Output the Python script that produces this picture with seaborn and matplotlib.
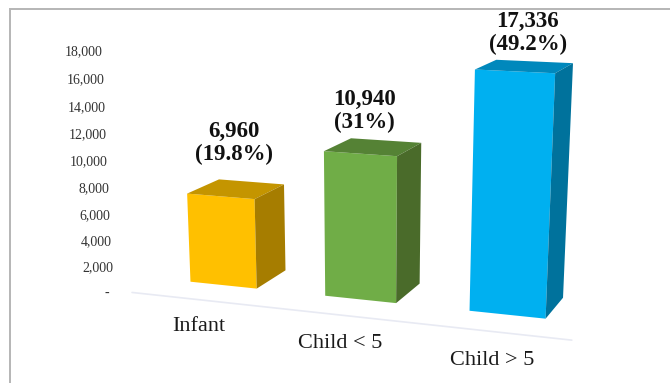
import numpy as np
import matplotlib
matplotlib.use("Agg")
import matplotlib.pyplot as plt
import matplotlib.transforms as mtransforms
import seaborn as sns

categories = ["Infant", "Child < 5", "Child > 5"]
counts = [6960, 10940, 17336]
shares = ["19.8%", "31%", "49.2%"]
y_ticks = [0, 2000, 4000, 6000, 8000, 10000, 12000, 14000, 16000, 18000]

front_colors = ["#FFC000", "#70AD47", "#00B0F0"]
top_colors = ["#C49500", "#558235", "#0088BC"]
side_colors = ["#A67D00", "#4A6B2A", "#00729C"]
label_offsets = [(13, -53), (4.5, -43), (13, -38.5)]
category_drop = [26.5, 28, 29.5]

# Camera of the pseudo-3D view: (category, value in thousands, depth) -> pixel
CAM_X = (124.993563, -0.990674, 41.33723, 223.315854)
CAM_Y = (4.253998, -13.289687, -6.023948, 285.127563)
CAM_W = (-0.033438, -0.002703, 0.044801, 1.0)
AXIS_DEPTH = -0.75


def project(u, v, d=0.0):
    vec = (u, v / 1000.0, d, 1.0)
    w = np.dot(CAM_W, vec)
    return np.dot(CAM_X, vec) / w, np.dot(CAM_Y, vec) / w


class Projection(mtransforms.Transform):
    input_dims = 2
    output_dims = 2
    is_separable = False
    has_inverse = False

    def __init__(self, plane=0.0):
        super().__init__()
        self.plane = plane

    def transform_non_affine(self, values):
        values = np.asarray(values, float)
        return np.array([project(u, v, self.plane) for u, v in values])


def tick_y(v):
    k = v / 1000.0
    return (293 - 13.525 * k) / (1 - 0.002626 * k)


def tick_x(v):
    return 114.6 - 0.65 * v / 1000.0


sns.set_theme(style="white")
plt.rcParams["font.family"] = ["Liberation Serif", "DejaVu Serif"]

fig = plt.figure(figsize=(6.7, 3.83), dpi=100, facecolor="white")
ax = fig.add_axes([0, 0, 1, 1])
sns.barplot(x=categories, y=counts, hue=categories, palette=front_colors,
            width=0.5, legend=False, saturation=1, ax=ax)
ax.set_xlim(-0.5, 2.5)
ax.set_ylim(0, 18000)
ax.set_axis_off()

PIX = mtransforms.Affine2D().scale(1, -1).translate(0, 383)
front = Projection(0.0) + PIX

for i, bar in enumerate(list(ax.patches)):
    left, right = bar.get_x(), bar.get_x() + bar.get_width()
    value = bar.get_height()
    bar.set_transform(front)
    bar.set_clip_on(False)
    bar.set_linewidth(0)
    top = [project(left, value, 0), project(right, value, 0),
           project(right, value, 1), project(left, value, 1)]
    side = [project(right, value, 0), project(right, 0, 0),
            project(right, 0, 1), project(right, value, 1)]
    ax.fill(*zip(*top), color=top_colors[i], lw=0, transform=PIX, clip_on=False)
    ax.fill(*zip(*side), color=side_colors[i], lw=0, transform=PIX, clip_on=False)

    cx, cy = project((left + right) / 2, value, 0)
    dx, dy = label_offsets[i]
    ax.text(cx + dx, cy + dy, f"{counts[i]:,}\n({shares[i]})", transform=PIX,
            ha="center", va="center", fontsize=16.5, fontweight="bold",
            color="#111111", linespacing=1.1)

    lx, ly = project((left + right) / 2, 0, AXIS_DEPTH)
    ax.text(lx, ly + category_drop[i], categories[i], transform=PIX, ha="center",
            va="center", fontsize=16, color="#1a1a1a")

# Category axis line along the floor
ends = [project(-0.5, 0, AXIS_DEPTH), project(2.5, 0, AXIS_DEPTH)]
ax.plot(*zip(*ends), color="#E8EAF3", lw=1.2, transform=PIX, clip_on=False)

# Value-axis labels
for t in y_ticks:
    label = f"{t:,}" if t else "-"
    x = tick_x(t) if t else tick_x(t) - 5.5
    ax.text(x, tick_y(t), label, transform=PIX, ha="right", va="center",
            fontsize=10, color="#333333")

# Picture frame, left and top
ax.plot([9.5, 9.5, 670], [383, 8.5, 8.5], color="#B5B5B5", lw=1.4,
        transform=PIX, clip_on=False, solid_joinstyle="miter")

fig.savefig("out.png", dpi=100)
